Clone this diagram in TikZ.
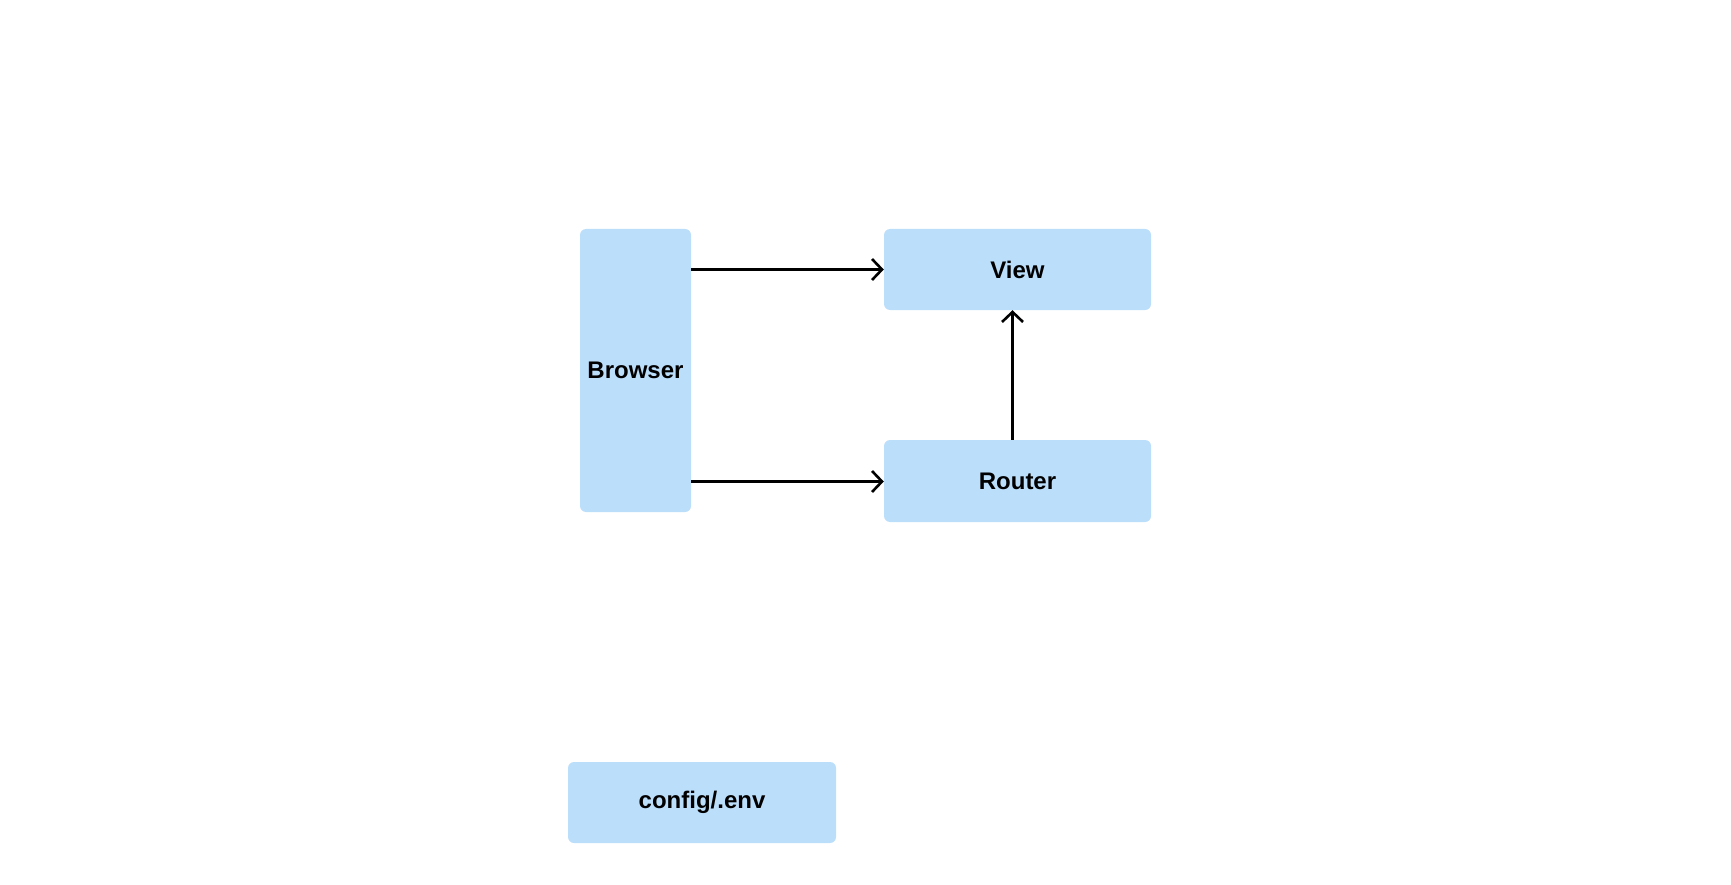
\documentclass[tikz,border=0pt]{standalone}
\usepackage{fontspec}
\setmainfont{Liberation Sans}
\usetikzlibrary{arrows.meta}
\definecolor{boxblue}{HTML}{BBDEFB}
\begin{document}
\begin{tikzpicture}[x=1pt,y=-1pt,
  blk/.style={fill=boxblue, rounded corners=6pt, inner sep=0pt, text=black,
    font=\fontsize{24}{29}\selectfont\bfseries},
  conn/.style={line width=2.6pt, -{Straight Barb[length=10pt,width=21pt,line width=2.6pt]}}]
\useasboundingbox (0,0) rectangle (1731,885);
\node[blk, minimum width=111pt, minimum height=283pt] (browser) at (635.5,370.5) {Browser};
\node[blk, minimum width=267pt, minimum height=81pt] (view) at (1017.5,269.5) {View};
\node[blk, minimum width=267pt, minimum height=82pt] (router) at (1017.5,481) {Router};
\node[blk, minimum width=268pt, minimum height=81pt] (config) at (702,802.5) {config/.env};
\draw[conn] (browser.east |- view.west) -- (view.west);
\draw[conn] ([yshift=-0.5pt]browser.east |- router.west) -- ([yshift=-0.5pt]router.west);
\draw[conn] ([xshift=-5pt]router.north) -- ([xshift=-5pt]view.south);
\end{tikzpicture}
\end{document}
